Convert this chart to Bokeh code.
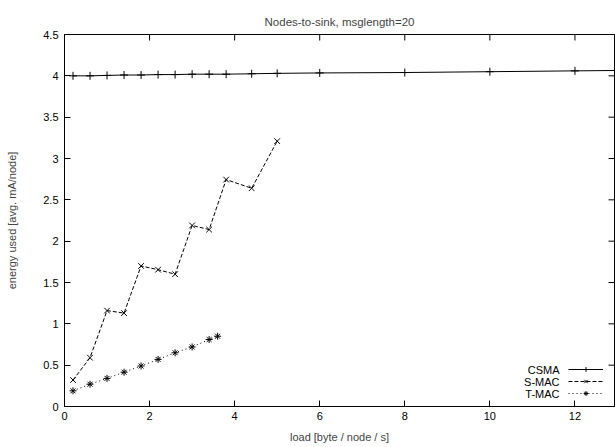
import math
from bokeh.plotting import figure
from bokeh.models import Range1d, FixedTicker, Legend, LegendItem, Label
from bokeh.embed import file_html
from bokeh.resources import INLINE

# ---- data ----
csma_x = [0.2, 0.6, 1.0, 1.4, 1.8, 2.2, 2.6, 3.0, 3.4, 3.8, 4.4, 5.0, 6.0, 8.0, 10.0, 12.0, 14.0]
csma_y = [4.00, 4.00, 4.005, 4.01, 4.01, 4.015, 4.015, 4.02, 4.02, 4.02, 4.025, 4.03, 4.035, 4.04, 4.05, 4.06, 4.07]

smac_x = [0.2, 0.6, 1.0, 1.4, 1.8, 2.2, 2.6, 3.0, 3.4, 3.8, 4.4, 5.0]
smac_y = [0.32, 0.59, 1.16, 1.13, 1.70, 1.655, 1.60, 2.19, 2.14, 2.745, 2.64, 3.21]

tmac_x = [0.2, 0.6, 1.0, 1.4, 1.8, 2.2, 2.6, 3.0, 3.4, 3.6]
tmac_y = [0.19, 0.27, 0.34, 0.415, 0.49, 0.57, 0.65, 0.72, 0.81, 0.85]

x_ticks = [0, 2, 4, 6, 8, 10, 12]
y_ticks = [0, 0.5, 1, 1.5, 2, 2.5, 3, 3.5, 4, 4.5]
y_tick_labels = {0: "0", 0.5: "0.5", 1: "1", 1.5: "1.5", 2: "2", 2.5: "2.5",
                 3: "3", 3.5: "3.5", 4: "4", 4.5: "4.5"}

series_names = ["CSMA", "S-MAC", "T-MAC"]

FONT = "Liberation Sans"
FS = "11px"
X_MAX = 12.93
Y_MAX = 4.5

p = figure(width=615, height=447, output_backend="svg", toolbar_location=None,
           x_range=Range1d(0, X_MAX), y_range=Range1d(0, Y_MAX),
           min_border_left=64, min_border_right=1, min_border_top=34, min_border_bottom=41,
           title="Nodes-to-sink, msglength=20")
p.title.align = "center"
p.title.text_font = FONT
p.title.text_font_size = "11.5px"
p.title.text_font_style = "normal"
p.title.standoff = 14
p.grid.visible = False
p.outline_line_color = "black"
p.outline_line_width = 1
p.background_fill_color = "white"
p.border_fill_color = "white"

def style_axis(ax):
    ax.major_tick_in = 6
    ax.major_tick_out = 0
    ax.minor_tick_line_color = None
    ax.axis_line_color = "black"
    ax.major_tick_line_color = "black"
    ax.major_label_text_font = FONT
    ax.major_label_text_font_size = FS
    ax.major_label_text_color = "black"
    ax.axis_label_text_font = FONT
    ax.axis_label_text_font_size = FS
    ax.axis_label_text_font_style = "normal"

xax = p.xaxis[0]
style_axis(xax)
xax.ticker = FixedTicker(ticks=x_ticks)
xax.axis_label = "load [byte / node / s]"
xax.axis_label_standoff = 8
xax.major_label_standoff = 5

yax = p.yaxis[0]
style_axis(yax)
yax.ticker = FixedTicker(ticks=y_ticks)
yax.major_label_overrides = y_tick_labels
yax.axis_label = "energy used [avg. mA/node]"
yax.axis_label_standoff = 22
yax.major_label_standoff = 6

# mirrored inward ticks on the top and right borders (gnuplot style)
p.scatter(x_ticks, [Y_MAX] * len(x_ticks), marker="dash", angle=math.pi / 2, size=12,
          line_color="black", line_width=1)
p.scatter([X_MAX] * len(y_ticks), y_ticks, marker="dash", size=12,
          line_color="black", line_width=1)

# ---- series ----
l1 = p.line(csma_x, csma_y, line_color="black", line_width=1)
m1 = p.scatter(csma_x, csma_y, marker="cross", size=8, line_color="black", line_width=1)

l2 = p.line(smac_x, smac_y, line_color="black", line_width=1, line_dash="4 2")
m2 = p.scatter(smac_x, smac_y, marker="x", size=8, line_color="black", line_width=1)

l3 = p.line(tmac_x, tmac_y, line_color="black", line_width=1, line_dash="1 3")
m3 = p.scatter(tmac_x, tmac_y, marker="asterisk", size=7, line_color="black", line_width=1)

# ---- gnuplot style key: text right-aligned, sample on the right ----
items = [LegendItem(label=" ", renderers=r) for r in [[l1, m1], [l2, m2], [l3, m3]]]
leg = Legend(items=items, location=(504, 7), padding=0, margin=0, spacing=0,
             glyph_height=12, glyph_width=35, label_width=0, label_standoff=0,
             label_height=12, label_text_font=FONT, label_text_font_size="2px",
             border_line_color=None, background_fill_alpha=0)
p.add_layout(leg, "center")

row_y = [36.7, 24.7, 12.7]
for name, yy in zip(series_names, row_y):
    p.add_layout(Label(x=495, y=yy, x_units="screen", y_units="screen", text=name,
                       text_align="right", text_baseline="middle",
                       text_font=FONT, text_font_size=FS, text_color="black"))

open("out.html", "w").write(file_html(p, INLINE))
